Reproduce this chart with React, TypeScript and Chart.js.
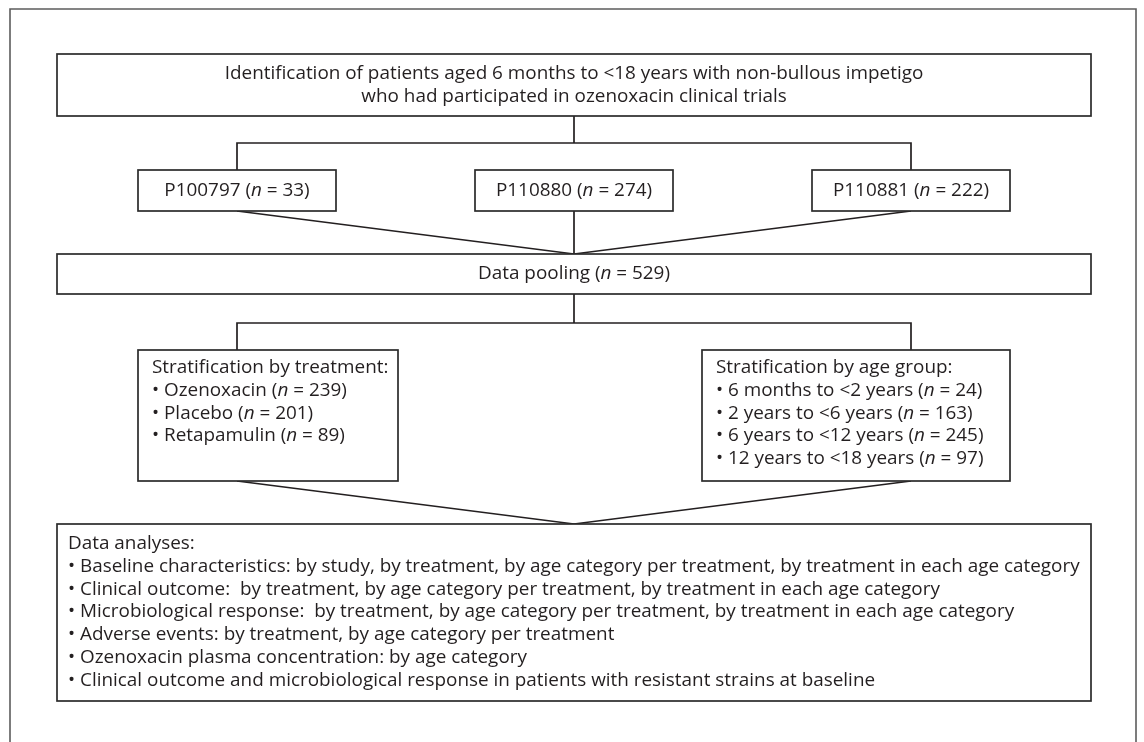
import React, { useEffect, useRef } from "react";
import { Chart, registerables } from "chart.js";

Chart.register(...registerables);

// ---- content (data) ----
const titleLines = [
  "Identification of patients aged 6 months to <18 years with non-bullous impetigo",
  "who had participated in ozenoxacin clinical trials",
];
const studyNames = ["P100797", "P110880", "P110881"];
const studyN = [33, 274, 222];
const pooledN = 529;
const treatments = ["Ozenoxacin", "Placebo", "Retapamulin"];
const treatmentN = [239, 201, 89];
const ageGroups = [
  "6 months to <2 years",
  "2 years to <6 years",
  "6 years to <12 years",
  "12 years to <18 years",
];
const ageN = [24, 163, 245, 97];
const analyses = [
  "Baseline characteristics: by study, by treatment, by age category per treatment, by treatment in each age category",
  "Clinical outcome:  by treatment, by age category per treatment, by treatment in each age category",
  "Microbiological response:  by treatment, by age category per treatment, by treatment in each age category",
  "Adverse events: by treatment, by age category per treatment",
  "Ozenoxacin plasma concentration: by age category",
  "Clinical outcome and microbiological response in patients with resistant strains at baseline",
];

// ---- layout (style, not data) ----
const W = 1144;
const H = 742;
const FONT = '"Open Sans", "Noto Sans", sans-serif';
const FS = 18.9;
const LH = 22.7;
const TEXT = "#231f20";
const LINE = "#231f20";
const COLS = [237, 574, 911];
const L = {
  frame: { l: 10, t: 9, r: 1136 },
  top: { l: 57, t: 54, r: 1091, b: 116 },
  study: { w: 198, t: 170, b: 211 },
  pool: { l: 57, t: 254, r: 1091, b: 294 },
  stratL: { l: 138, t: 350, r: 398, b: 481 },
  stratR: { l: 702, t: 350, r: 1010, b: 481 },
  bottom: { l: 57, t: 524, r: 1091, b: 701 },
  branch1: 143,
  branch2: 323,
};

type Seg = { t: string; it: boolean };
function parse(s: string): Seg[] {
  const parts = s.split("*");
  return parts.map((t, i) => ({ t, it: i % 2 === 1 })).filter((p) => p.t.length);
}
const nTxt = (n: number) => `(*n* = ${n})`;

function drawRich(ctx: CanvasRenderingContext2D, s: string, x: number, y: number, align: "left" | "center") {
  const segs = parse(s);
  const font = (it: boolean) => `${it ? "italic " : ""}${FS}px ${FONT}`;
  let total = 0;
  const widths = segs.map((g) => {
    ctx.font = font(g.it);
    const w = ctx.measureText(g.t).width;
    total += w;
    return w;
  });
  let cx = align === "center" ? x - total / 2 : x;
  ctx.textBaseline = "middle";
  ctx.textAlign = "left";
  ctx.fillStyle = TEXT;
  segs.forEach((g, i) => {
    ctx.font = font(g.it);
    ctx.fillText(g.t, cx, y);
    cx += widths[i];
  });
}

const flowPlugin = {
  id: "flowBoxes",
  afterDatasetsDraw(chart: any) {
    const ctx: CanvasRenderingContext2D = chart.ctx;
    const xs = chart.scales.x;
    const ys = chart.scales.y;
    const px = (v: number) => xs.getPixelForValue(v);
    const py = (v: number) => ys.getPixelForValue(v);
    ctx.save();
    // outer frame (open at bottom)
    ctx.strokeStyle = "#5c5c5c";
    ctx.lineWidth = 1.6;
    ctx.beginPath();
    ctx.moveTo(px(L.frame.l), py(H + 5));
    ctx.lineTo(px(L.frame.l), py(L.frame.t));
    ctx.lineTo(px(L.frame.r), py(L.frame.t));
    ctx.lineTo(px(L.frame.r), py(H + 5));
    ctx.stroke();

    const box = (b: { l: number; t: number; r: number; b: number }) => {
      ctx.fillStyle = "#ffffff";
      ctx.fillRect(px(b.l), py(b.t), px(b.r) - px(b.l), py(b.b) - py(b.t));
      ctx.strokeStyle = "#2b2b2b";
      ctx.lineWidth = 1.7;
      ctx.strokeRect(px(b.l), py(b.t), px(b.r) - px(b.l), py(b.b) - py(b.t));
    };

    // top box
    box(L.top);
    const tc = (L.top.t + L.top.b) / 2;
    titleLines.forEach((s, i) => drawRich(ctx, s, px(COLS[1]), py(tc + (i - 0.5) * 23), "center"));

    // study boxes
    studyNames.forEach((name, i) => {
      const b = { l: COLS[i] - L.study.w / 2, r: COLS[i] + L.study.w / 2, t: L.study.t, b: L.study.b };
      box(b);
      drawRich(ctx, `${name} ${nTxt(studyN[i])}`, px(COLS[i]), py((b.t + b.b) / 2), "center");
    });

    // pooling
    box(L.pool);
    drawRich(ctx, `Data pooling ${nTxt(pooledN)}`, px(COLS[1]), py((L.pool.t + L.pool.b) / 2), "center");

    // stratification
    box(L.stratL);
    const lt = ["Stratification by treatment:", ...treatments.map((t, i) => `\u2022 ${t} ${nTxt(treatmentN[i])}`)];
    lt.forEach((s, i) => drawRich(ctx, s, px(L.stratL.l + 14), py(L.stratL.t + 18 + i * LH), "left"));
    box(L.stratR);
    const rt = ["Stratification by age group:", ...ageGroups.map((t, i) => `\u2022 ${t} ${nTxt(ageN[i])}`)];
    rt.forEach((s, i) => drawRich(ctx, s, px(L.stratR.l + 14), py(L.stratR.t + 18 + i * LH), "left"));

    // analyses
    box(L.bottom);
    const bt = ["Data analyses:", ...analyses.map((a) => `\u2022 ${a}`)];
    bt.forEach((s, i) => drawRich(ctx, s, px(L.bottom.l + 11), py(L.bottom.t + 20 + i * LH), "left"));
    ctx.restore();
  },
};

function connectorData() {
  const [a, c, e] = COLS;
  const seg = (pts: number[][]) => pts.map(([x, y]) => ({ x, y }));
  return [
    seg([[c, L.top.b], [c, L.branch1]]),
    seg([[a, L.study.t], [a, L.branch1], [e, L.branch1], [e, L.study.t]]),
    seg([[a, L.study.b], [c, L.pool.t], [e, L.study.b]]),
    seg([[c, L.study.b], [c, L.pool.t]]),
    seg([[c, L.pool.b], [c, L.branch2]]),
    seg([[a, L.stratL.t], [a, L.branch2], [e, L.branch2], [e, L.stratR.t]]),
    seg([[a, L.stratL.b], [c, L.bottom.t], [e, L.stratR.b]]),
  ];
}

export default function App() {
  const ref = useRef<HTMLCanvasElement | null>(null);
  useEffect(() => {
    if (!ref.current) return;
    const chart = new Chart(ref.current, {
      type: "scatter",
      data: {
        datasets: connectorData().map((d) => ({
          data: d,
          showLine: true,
          pointRadius: 0,
          borderColor: LINE,
          borderWidth: 1.7,
          fill: false,
          tension: 0,
        })),
      },
      options: {
        animation: false,
        responsive: false,
        devicePixelRatio: 1,
        layout: { padding: 0 },
        plugins: { legend: { display: false }, tooltip: { enabled: false } },
        scales: {
          x: { type: "linear", min: 0, max: W, display: false },
          y: { type: "linear", min: 0, max: H, reverse: true, display: false },
        },
      },
      plugins: [flowPlugin],
    });
    return () => chart.destroy();
  }, []);
  return (
    <div style={{ position: "absolute", left: 0, top: 0, width: W, height: H, background: "#fff" }}>
      <canvas ref={ref} width={W} height={H} style={{ display: "block", width: W, height: H }} />
    </div>
  );
}
